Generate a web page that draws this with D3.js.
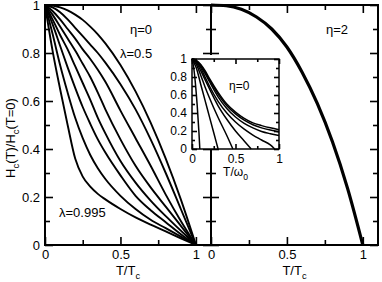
<!DOCTYPE html>
<html>
<head>
<meta charset="utf-8">
<script src="https://cdn.jsdelivr.net/npm/d3@7"></script>
<style>
  body { margin: 0; background: #fff; }
  svg { display: block; font-family: "Liberation Sans", Arial, sans-serif; }
</style>
</head>
<body>
<div id="chart"></div>
<script>
// left panel, eta = 0, curves from lambda = 0.5 (top) down to lambda = 0.995
const tGrid = [0, 0.05, 0.1, 0.15, 0.2, 0.25, 0.3, 0.35, 0.4, 0.5, 0.6, 0.7, 0.8, 0.9, 1];
const eta0Curves = [
  [1, 0.998, 0.99, 0.978, 0.96, 0.938, 0.91, 0.878, 0.84, 0.75, 0.64, 0.51, 0.36, 0.19, 0],
  [1, 0.99, 0.97, 0.94, 0.905, 0.87, 0.835, 0.8, 0.76, 0.67, 0.565, 0.44, 0.3, 0.15, 0],
  [1, 0.975, 0.94, 0.9, 0.86, 0.815, 0.775, 0.73, 0.68, 0.56, 0.445, 0.33, 0.21, 0.1, 0],
  [1, 0.96, 0.91, 0.86, 0.81, 0.755, 0.7, 0.635, 0.565, 0.44, 0.33, 0.24, 0.16, 0.08, 0],
  [1, 0.94, 0.875, 0.815, 0.745, 0.675, 0.605, 0.53, 0.465, 0.35, 0.26, 0.185, 0.12, 0.06, 0],
  [1, 0.92, 0.83, 0.74, 0.655, 0.575, 0.505, 0.44, 0.385, 0.29, 0.205, 0.145, 0.095, 0.045, 0],
  [1, 0.88, 0.75, 0.635, 0.53, 0.445, 0.375, 0.32, 0.275, 0.205, 0.15, 0.105, 0.07, 0.035, 0],
  [1, 0.81, 0.65, 0.5, 0.36, 0.285, 0.243, 0.213, 0.19, 0.15, 0.115, 0.085, 0.057, 0.028, 0]
];

// right panel, eta = 2
const tGridEta2 = [0, 0.1, 0.2, 0.3, 0.4, 0.5, 0.6, 0.7, 0.8, 0.9, 1];
const eta2Curve = [1, 0.997, 0.982, 0.95, 0.9, 0.825, 0.72, 0.59, 0.43, 0.235, 0];

// inset, eta = 0 against T/omega_0
const insetT = [
  [0, 0.02, 0.04, 0.06, 0.08, 0.09],
  [0, 0.05, 0.1, 0.15, 0.2, 0.25, 0.3],
  [0, 0.05, 0.1, 0.15, 0.2, 0.3, 0.4, 0.47],
  [0, 0.05, 0.1, 0.15, 0.2, 0.3, 0.4, 0.5, 0.6, 0.68],
  [0, 0.05, 0.1, 0.15, 0.2, 0.3, 0.4, 0.5, 0.6, 0.7, 0.8, 0.9, 0.95],
  [0, 0.05, 0.1, 0.15, 0.2, 0.3, 0.4, 0.5, 0.6, 0.7, 0.8, 0.9, 1],
  [0, 0.05, 0.1, 0.15, 0.2, 0.3, 0.4, 0.5, 0.6, 0.7, 0.8, 0.9, 1],
  [0, 0.05, 0.1, 0.15, 0.2, 0.3, 0.4, 0.5, 0.6, 0.7, 0.8, 0.9, 1]
];
const insetV = [
  [1, 0.9, 0.72, 0.48, 0.18, 0],
  [1, 0.9, 0.72, 0.54, 0.36, 0.18, 0],
  [1, 0.94, 0.82, 0.69, 0.57, 0.35, 0.15, 0],
  [1, 0.96, 0.87, 0.77, 0.67, 0.48, 0.33, 0.2, 0.09, 0],
  [1, 0.97, 0.9, 0.8, 0.7, 0.53, 0.4, 0.3, 0.22, 0.155, 0.1, 0.045, 0],
  [1, 0.975, 0.92, 0.84, 0.75, 0.58, 0.45, 0.355, 0.285, 0.235, 0.195, 0.17, 0.15],
  [1, 0.98, 0.93, 0.855, 0.77, 0.61, 0.48, 0.39, 0.32, 0.27, 0.235, 0.21, 0.19],
  [1, 0.985, 0.94, 0.87, 0.785, 0.63, 0.5, 0.41, 0.34, 0.29, 0.26, 0.235, 0.215]
];

const xMajor = [0, 0.5, 1];
const xMinor = [0.25, 0.75];
const yMajor = [0, 0.2, 0.4, 0.6, 0.8, 1];
const yMinor = [0.1, 0.3, 0.5, 0.7, 0.9];

const width = 382;
const height = 282;
const padL = 45, midX = 211, padR = 378, padT = 5, padB = 245;

const svg = d3.select('#chart').append('svg')
  .attr('width', width)
  .attr('height', height);

const xL = d3.scaleLinear().domain([0, 1.1]).range([padL, midX]);
const xR = d3.scaleLinear().domain([0, 1.1]).range([midX, padR]);
const y = d3.scaleLinear().domain([0, 1]).range([padB, padT]);

const xI = d3.scaleLinear().domain([0, 1]).range([192, 279]);
const yI = d3.scaleLinear().domain([0, 1]).range([149, 59]);

// axis helper: inward ticks, major with optional labels + minor
function addAxis(at, axisGen, scale, majors, minors, labels, lenMaj, lenMin, fs) {
  const g = svg.append('g').attr('transform', at);
  g.append('g').call(axisGen(scale).tickValues(majors).tickSize(lenMaj).tickPadding(5)
    .tickFormat(labels ? (d) => String(d) : () => ''));
  g.append('g').call(axisGen(scale).tickValues(minors).tickSize(lenMin).tickFormat(() => ''));
  g.selectAll('.domain').remove();
  g.selectAll('line').attr('stroke', '#000').attr('stroke-width', 1.6);
  g.selectAll('text').filter(function () { return this.textContent === ''; }).remove();
  g.selectAll('text').attr('font-size', fs).attr('fill', '#000')
    .attr('font-family', '"Liberation Sans", Arial, sans-serif');
  return g;
}

// left panel
addAxis(`translate(${padL},0)`, d3.axisLeft, y, yMajor, yMinor, true, -8, -5, 13);
addAxis(`translate(0,${padB})`, d3.axisBottom, xL, xMajor, xMinor, true, -8, -5, 13);
addAxis(`translate(0,${padT})`, d3.axisTop, xL, xMajor, xMinor, false, -8, -5, 13);
addAxis(`translate(${midX},0)`, d3.axisRight, y, yMajor, yMinor, false, -8, -5, 13);
// right panel
addAxis(`translate(${midX},0)`, d3.axisLeft, y, yMajor, yMinor, false, -8, -5, 13);
addAxis(`translate(0,${padB})`, d3.axisBottom, xR, xMajor, xMinor, true, -8, -5, 13);
addAxis(`translate(0,${padT})`, d3.axisTop, xR, xMajor, xMinor, false, -8, -5, 13);
addAxis(`translate(${padR},0)`, d3.axisRight, y, yMajor, yMinor, false, -8, -5, 13);

const lineL = d3.line().x((d) => xL(d[0])).y((d) => y(d[1])).curve(d3.curveMonotoneX);
const lineR = d3.line().x((d) => xR(d[0])).y((d) => y(d[1])).curve(d3.curveMonotoneX);
const lineI = d3.line().x((d) => xI(d[0])).y((d) => yI(d[1])).curve(d3.curveMonotoneX);

svg.append('g').selectAll('path')
  .data(eta0Curves)
  .enter()
  .append('path')
  .attr('fill', 'none')
  .attr('stroke', '#000')
  .attr('stroke-width', 1.9)
  .attr('d', (vals) => lineL(vals.map((v, i) => [tGrid[i], v])));

svg.append('path')
  .attr('fill', 'none')
  .attr('stroke', '#000')
  .attr('stroke-width', 3.2)
  .attr('d', lineR(eta2Curve.map((v, i) => [tGridEta2[i], v])));

// frame
svg.append('rect')
  .attr('x', padL).attr('y', padT)
  .attr('width', padR - padL).attr('height', padB - padT)
  .attr('fill', 'none').attr('stroke', '#000').attr('stroke-width', 2);
svg.append('line')
  .attr('x1', midX).attr('x2', midX).attr('y1', padT).attr('y2', padB)
  .attr('stroke', '#000').attr('stroke-width', 2);

// inset (white box hides the divider behind it)
svg.append('rect')
  .attr('x', xI(0) - 12).attr('y', yI(1) - 4)
  .attr('width', xI(1) - xI(0) + 12).attr('height', yI(0) - yI(1) + 4)
  .attr('fill', '#fff');

addAxis(`translate(${xI(0)},0)`, d3.axisLeft, yI, yMajor, yMinor, true, -5, -3, 12);
addAxis(`translate(0,${yI(0)})`, d3.axisBottom, xI, xMajor, xMinor, true, -5, -3, 12);
addAxis(`translate(0,${yI(1)})`, d3.axisTop, xI, xMajor, xMinor, false, -5, -3, 12);
addAxis(`translate(${xI(1)},0)`, d3.axisRight, yI, yMajor, yMinor, false, -5, -3, 12);

svg.append('g').selectAll('path')
  .data(insetV)
  .enter()
  .append('path')
  .attr('fill', 'none')
  .attr('stroke', '#000')
  .attr('stroke-width', 1.5)
  .attr('d', (vals, k) => lineI(vals.map((v, i) => [insetT[k][i], v])));

svg.append('rect')
  .attr('x', xI(0)).attr('y', yI(1))
  .attr('width', xI(1) - xI(0)).attr('height', yI(0) - yI(1))
  .attr('fill', 'none').attr('stroke', '#000').attr('stroke-width', 1.5);

// texts; parts are plain strings or {sub: '...'} for subscripts
function label(x, yy, parts, fs, anchor) {
  const t = svg.append('text')
    .attr('x', x).attr('y', yy)
    .attr('font-size', fs)
    .attr('text-anchor', anchor || 'start');
  let shift = 0;
  parts.forEach((p) => {
    if (typeof p === 'string') {
      t.append('tspan').attr('dy', -shift).text(p);
      shift = 0;
    } else {
      t.append('tspan').attr('dy', 4).attr('font-size', fs * 0.72).text(p.sub);
      shift = 4;
    }
  });
  return t;
}

label(130, 34, ['η=0'], 13);
label(120, 58, ['λ=0.5'], 13);
label(59, 217, ['λ=0.995'], 13);
label(326, 34, ['η=2'], 13);
label(229, 90, ['η=0'], 12);

label((padL + midX) / 2, 275, ['T/T', { sub: 'c' }], 13, 'middle');
label((midX + padR) / 2, 275, ['T/T', { sub: 'c' }], 13, 'middle');
label(xI(0.5), 176, ['T/ω', { sub: '0' }], 12, 'middle');

label(0, 0, ['H', { sub: 'c' }, '(T)/H', { sub: 'c' }, '(T=0)'], 13, 'middle')
  .attr('transform', 'translate(15,138) rotate(-90)');
</script>
</body>
</html>
